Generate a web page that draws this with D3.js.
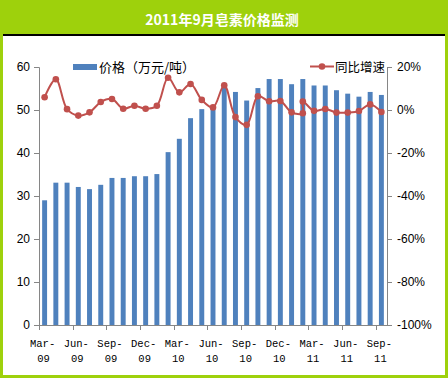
<!DOCTYPE html>
<html><head><meta charset="utf-8">
<script src="https://cdn.jsdelivr.net/npm/d3@7"></script>
<style>body{margin:0;background:#fff;}svg{display:block;}</style>
</head><body>
<svg id="c" width="448" height="378"></svg>
<script>
const title = "2011年9月皂素价格监测";
const months = ["Mar-09","Apr-09","May-09","Jun-09","Jul-09","Aug-09","Sep-09","Oct-09","Nov-09","Dec-09",
"Jan-10","Feb-10","Mar-10","Apr-10","May-10","Jun-10","Jul-10","Aug-10","Sep-10","Oct-10","Nov-10","Dec-10",
"Jan-11","Feb-11","Mar-11","Apr-11","May-11","Jun-11","Jul-11","Aug-11","Sep-11"];
const price = [29,33.1,33.1,32.1,31.6,32.6,34.2,34.2,34.6,34.6,35.1,40.2,43.3,48.1,50.2,50.2,55.4,54.2,52.2,55.1,57.2,57.2,56,57.2,55.7,55.7,54.6,53.8,53.1,54.2,53.5];
const growthMonths = ["Mar-09","Apr-09","May-09","Jun-09","Jul-09","Aug-09","Sep-09","Oct-09","Nov-09","Dec-09",
"Jan-10","Feb-10","Mar-10","Apr-10","May-10","Jun-10","Jul-10","Aug-10","Sep-10","Oct-10","Nov-10","Dec-10",
"Jan-11","Feb-11","Feb-11","Mar-11","Apr-11","May-11","Jun-11","Jul-11","Aug-11","Sep-11"];
const growth = [5.9,14.3,0.4,-2.6,-1.1,3.7,5.1,0.6,2,0.6,2,15,8.2,12.1,4.7,1.2,11.5,-3.3,-6.9,6.4,4.1,4.2,-1.1,-1.5,3.9,-0.4,0.5,-1.2,-1.2,-0.5,2.6,-0.9];
const leftTicks = [0,10,20,30,40,50,60];
const rightTicks = [-100,-80,-60,-40,-20,0,20];
const seriesNames = ["价格（万元/吨）","同比增速"];

const svg = d3.select("#c");
const green = "#9ED10C";
svg.append("rect").attr("x",0).attr("y",0).attr("width",448).attr("height",35).attr("fill",green);
svg.append("rect").attr("x",0).attr("y",0).attr("width",3).attr("height",378).attr("fill",green);
svg.append("rect").attr("x",445).attr("y",0).attr("width",3).attr("height",378).attr("fill",green);
svg.append("rect").attr("x",0).attr("y",375).attr("width",448).attr("height",3).attr("fill",green);
svg.append("rect").attr("x",3).attr("y",34).attr("width",442).attr("height",2).attr("fill","#000");
svg.append("text").attr("x",222).attr("y",25).attr("text-anchor","middle")
  .attr("font-family","'Noto Sans CJK SC'").attr("font-weight","bold").attr("font-size",14)
  .attr("fill","#fff").text(title);

const L=39, R=387, T=67, B=325;
const x = d3.scaleBand().domain(months).range([L,R]).paddingInner(0.56).paddingOuter(0.28);
const xc = m => x(m) + x.bandwidth()/2;
const yL = d3.scaleLinear().domain([0,60]).range([B,T]);
const yR = d3.scaleLinear().domain([-100,20]).range([B,T]);

const axisCol = "#868686";
const numFont = "'Liberation Sans', Arial, sans-serif";
const gl = svg.append("g").attr("transform",`translate(${L},0)`)
  .call(d3.axisLeft(yL).tickValues(leftTicks).tickSize(5).tickPadding(4));
gl.select(".domain").attr("stroke",axisCol);
gl.selectAll(".tick line").attr("stroke",axisCol);
gl.selectAll("text").attr("font-family",numFont).attr("font-size",12).attr("fill","#000");
const gr = svg.append("g").attr("transform",`translate(${R},0)`)
  .call(d3.axisRight(yR).tickValues(rightTicks).tickSize(5).tickPadding(5).tickFormat(d=>d+"%"));
gr.select(".domain").attr("stroke",axisCol);
gr.selectAll(".tick line").attr("stroke",axisCol);
gr.selectAll("text").attr("font-family",numFont).attr("font-size",12).attr("fill","#000");

svg.append("g").selectAll("rect").data(price).join("rect")
  .attr("x",(d,i)=>x(months[i])).attr("width",x.bandwidth())
  .attr("y",d=>yL(d)).attr("height",d=>yL(0)-yL(d)).attr("fill","#4F81BD");

const step = (R-L)/months.length;
const gb = svg.append("g");
gb.append("line").attr("x1",L).attr("x2",R).attr("y1",B+0.5).attr("y2",B+0.5).attr("stroke",axisCol);
const tickIdx = d3.range(0, months.length+1, 3);
gb.selectAll("line.t").data(tickIdx).join("line").attr("class","t")
  .attr("x1",i=>Math.round(L+i*step)+0.5).attr("x2",i=>Math.round(L+i*step)+0.5)
  .attr("y1",B).attr("y2",B+5).attr("stroke",axisCol);
const labIdx = d3.range(0, months.length, 3);
const lab = gb.selectAll("text").data(labIdx).join("text")
  .attr("text-anchor","middle").attr("font-family","'Liberation Mono', monospace").attr("font-size",10.5).attr("fill","#000");
lab.append("tspan").attr("x",i=>xc(months[i])-2).attr("y",347).text(i=>months[i].split("-")[0]+"-");
lab.append("tspan").attr("x",i=>xc(months[i])-1).attr("y",362).text(i=>months[i].split("-")[1]);

const lineCol = "#C0504D";
const pts = growth.map((v,i)=>[xc(growthMonths[i]), yR(v)]);
svg.append("path").attr("d",d3.line().curve(d3.curveCatmullRom.alpha(0.5))(pts))
  .attr("fill","none").attr("stroke",lineCol).attr("stroke-width",2);
svg.append("g").selectAll("circle").data(pts).join("circle")
  .attr("cx",d=>d[0]).attr("cy",d=>d[1]).attr("r",3.3).attr("fill",lineCol);

svg.append("rect").attr("x",73).attr("y",64).attr("width",24).attr("height",6).attr("fill","#4F81BD");
svg.append("text").attr("x",99).attr("y",72).attr("font-family","'Noto Sans CJK SC'").attr("font-size",13).text(seriesNames[0]);
svg.append("line").attr("x1",310).attr("x2",334).attr("y1",66.5).attr("y2",66.5).attr("stroke",lineCol).attr("stroke-width",2);
svg.append("circle").attr("cx",322).attr("cy",66.5).attr("r",3.3).attr("fill",lineCol);
svg.append("text").attr("x",335).attr("y",72).attr("font-family","'Noto Sans CJK SC'").attr("font-size",12.5).text(seriesNames[1]);
</script>
</body></html>
